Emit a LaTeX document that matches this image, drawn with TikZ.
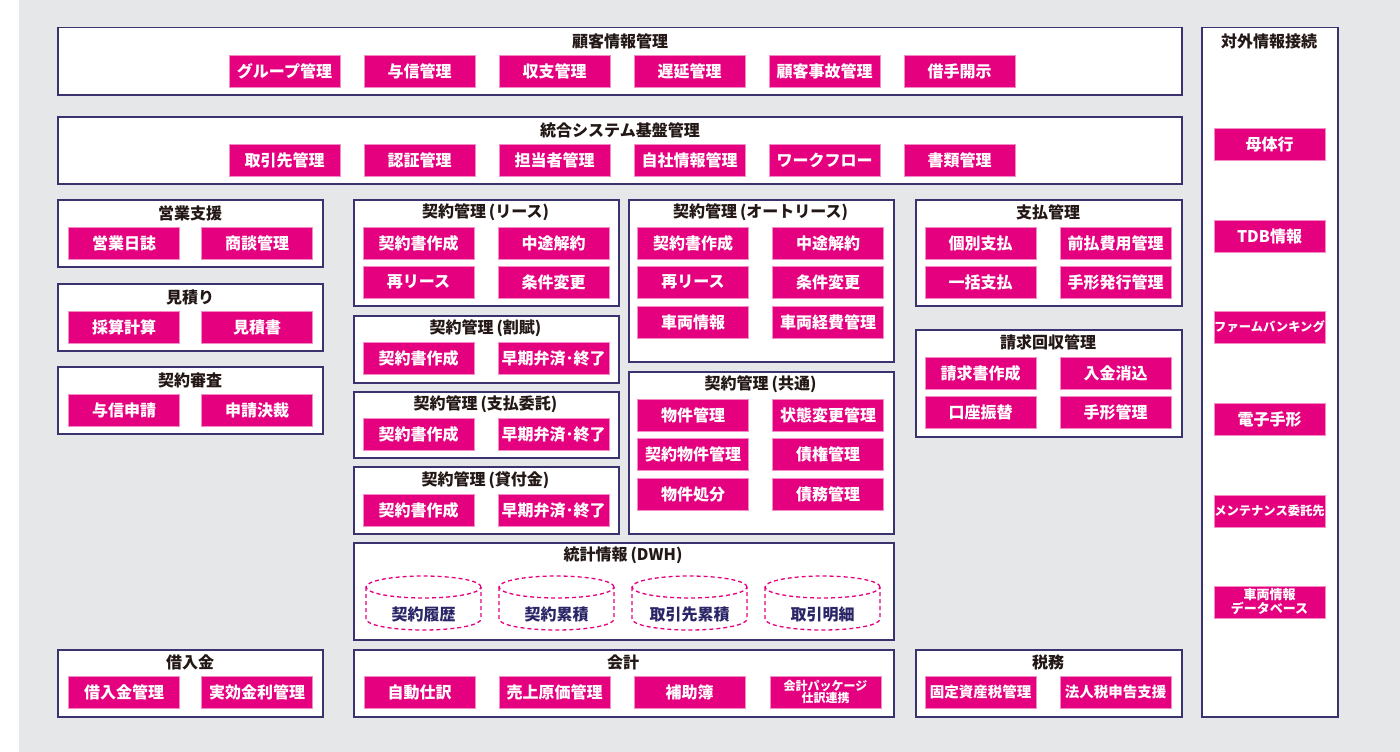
\documentclass[tikz,border=0pt]{standalone}
\usepackage{fontspec}
\setmainfont{Noto Sans CJK JP}
\usepackage{xcolor}
\definecolor{PanelGray}{HTML}{E6E7E8}
\definecolor{FrameNavy}{HTML}{3A336F}
\definecolor{BtnMagenta}{HTML}{E4007F}
\definecolor{TitleBlack}{HTML}{231815}
\definecolor{DbNavy}{HTML}{2A2566}

\begin{document}
\begin{tikzpicture}[x=1pt, y=-1pt,
    frame/.style={draw=FrameNavy, line width=1.5pt, fill=white, inner sep=0pt, anchor=north west},
    ttl/.style={text=TitleBlack, font=\bfseries\fontsize{16}{18}\selectfont},
    btn/.style={fill=BtnMagenta, draw=BtnMagenta!45, line width=0.6pt, text=white, minimum width=111pt,
      minimum height=32pt, inner sep=0pt, align=center, font=\bfseries\fontsize{16}{18}\selectfont},
    smalltxt/.style={font=\bfseries\fontsize{12.3}{13}\selectfont},
    tinytxt/.style={font=\bfseries\fontsize{12}{12.5}\selectfont},
    db/.style={draw=BtnMagenta, line width=1.3pt, dash pattern=on 4pt off 3pt},
    dbtext/.style={text=DbNavy, font=\bfseries\fontsize{16}{18}\selectfont}]
    \useasboundingbox (0,0) rectangle (1400,752);
    \fill[white] (0,0) rectangle (1400,752);
    \fill[PanelGray] (19,0) rectangle (1400,752);

    % Top rows
    \node[frame, minimum width=1124pt, minimum height=67pt] (customer) at (57,27) {};
    \node[ttl] (customerT) at (620,41) {顧客情報管理};
    \foreach \t [count=\i] in {グループ管理,与信管理,収支管理,遅延管理,顧客事故管理,借手開示}
        \node[btn] (cust\i) at ({149.5+135*\i},71) {\t};

    \node[frame, minimum width=1124pt, minimum height=67pt] (base) at (57,116) {};
    \node[ttl] (baseT) at (620,130) {統合システム基盤管理};
    \foreach \t [count=\i] in {取引先管理,認証管理,担当者管理,自社情報管理,ワークフロー,書類管理}
        \node[btn] (base\i) at ({149.5+135*\i},160) {\t};

    % Left column
    \node[frame, minimum width=265pt, minimum height=67pt] (sales) at (57,199) {};
    \node[ttl] (salesT) at (190,213) {営業支援};
    \node[btn] (sales1) at (124,243.5) {営業日誌};
    \node[btn] (sales2) at (257,243.5) {商談管理};

    \node[frame, minimum width=265pt, minimum height=67pt] (quote) at (57,283) {};
    \node[ttl] (quoteT) at (190,297) {見積り};
    \node[btn] (quote1) at (124,327.5) {採算計算};
    \node[btn] (quote2) at (257,327.5) {見積書};

    \node[frame, minimum width=265pt, minimum height=67pt] (review) at (57,366) {};
    \node[ttl] (reviewT) at (190,380) {契約審査};
    \node[btn] (review1) at (124,410.5) {与信申請};
    \node[btn] (review2) at (257,410.5) {申請決裁};

    % Contract columns
    \node[frame, minimum width=265pt, minimum height=106pt] (lease) at (353,199) {};
    \node[ttl] (leaseT) at (485.5,212) {契約管理\kern3pt(リース)};
    \node[btn] (lease1) at (418.5,243) {契約書作成};
    \node[btn] (lease2) at (553.5,243) {中途解約};
    \node[btn] (lease3) at (418.5,282) {再リース};
    \node[btn] (lease4) at (553.5,282) {条件変更};

    \node[frame, minimum width=265pt, minimum height=67pt] (install) at (353,315) {};
    \node[ttl] (installT) at (485.5,328) {契約管理\kern3pt(割賦)};
    \node[btn] (install1) at (418.5,358.5) {契約書作成};
    \node[btn] (install2) at (553.5,358.5) {早期弁済･終了};

    \node[frame, minimum width=265pt, minimum height=66pt] (payagent) at (353,391) {};
    \node[ttl] (payagentT) at (485.5,404) {契約管理\kern3pt(支払委託)};
    \node[btn] (payagent1) at (418.5,434.5) {契約書作成};
    \node[btn] (payagent2) at (553.5,434.5) {早期弁済･終了};

    \node[frame, minimum width=265pt, minimum height=67pt] (loan) at (353,466) {};
    \node[ttl] (loanT) at (485.5,480) {契約管理\kern3pt(貸付金)};
    \node[btn] (loan1) at (418.5,510) {契約書作成};
    \node[btn] (loan2) at (553.5,510) {早期弁済･終了};

    \node[frame, minimum width=265pt, minimum height=162pt] (auto) at (628,199) {};
    \node[ttl] (autoT) at (760.5,212) {契約管理\kern3pt(オートリース)};
    \node[btn] (auto1) at (693,243) {契約書作成};
    \node[btn] (auto2) at (828,243) {中途解約};
    \node[btn] (auto3) at (693,282) {再リース};
    \node[btn] (auto4) at (828,282) {条件変更};
    \node[btn] (auto5) at (693,322) {車両情報};
    \node[btn] (auto6) at (828,322) {車両経費管理};

    \node[frame, minimum width=265pt, minimum height=162pt] (common) at (628,371) {};
    \node[ttl] (commonT) at (760.5,384) {契約管理\kern3pt(共通)};
    \node[btn] (common1) at (693,415) {物件管理};
    \node[btn] (common2) at (828,415) {状態変更管理};
    \node[btn] (common3) at (693,454) {契約物件管理};
    \node[btn] (common4) at (828,454) {債権管理};
    \node[btn] (common5) at (693,494) {物件処分};
    \node[btn] (common6) at (828,494) {債務管理};

    % Data warehouse
    \node[frame, minimum width=540pt, minimum height=97pt] (dwh) at (353,542) {};
    \node[ttl] (dwhT) at (623,555) {統計情報\kern3pt(DWH)};
    \foreach \t [count=\i] in {契約履歴,契約累積,取引先累積,取引明細} {
        \draw[db] ({290.5+133*\i},587) ellipse [x radius=57.5pt, y radius=11pt];
        \draw[db] ({233+133*\i},587) -- ({233+133*\i},619)
            arc [start angle=180, end angle=360, x radius=57.5pt, y radius=11pt] -- ({348+133*\i},587);
        \node[dbtext] (dwh\i) at ({290.5+133*\i},614) {\t};
    }

    % Payment and billing
    \node[frame, minimum width=266pt, minimum height=106pt] (pay) at (915,199) {};
    \node[ttl] (payT) at (1048,212) {支払管理};
    \node[btn] (pay1) at (980.5,243) {個別支払};
    \node[btn] (pay2) at (1115.5,243) {前払費用管理};
    \node[btn] (pay3) at (980.5,282) {一括支払};
    \node[btn] (pay4) at (1115.5,282) {手形発行管理};

    \node[frame, minimum width=266pt, minimum height=107pt] (bill) at (915,329) {};
    \node[ttl] (billT) at (1048,342) {請求回収管理};
    \node[btn] (bill1) at (980.5,373) {請求書作成};
    \node[btn] (bill2) at (1115.5,373) {入金消込};
    \node[btn] (bill3) at (980.5,412) {口座振替};
    \node[btn] (bill4) at (1115.5,412) {手形管理};

    % Bottom row
    \node[frame, minimum width=265pt, minimum height=67pt] (borrow) at (57,649) {};
    \node[ttl] (borrowT) at (190,662) {借入金};
    \node[btn] (borrow1) at (124,692) {借入金管理};
    \node[btn] (borrow2) at (257,692) {実効金利管理};

    \node[frame, minimum width=540pt, minimum height=67pt] (acct) at (353,649) {};
    \node[ttl] (acctT) at (623,662) {会計};
    \node[btn] (acct1) at (419.5,692) {自動仕訳};
    \node[btn] (acct2) at (554.5,692) {売上原価管理};
    \node[btn] (acct3) at (689.5,692) {補助簿};
    \node[btn, tinytxt] (acct4) at (825.5,692) {会計パッケージ\\仕訳連携};

    \node[frame, minimum width=266pt, minimum height=67pt] (tax) at (915,649) {};
    \node[ttl] (taxT) at (1048,662) {税務};
    \node[btn, font=\bfseries\fontsize{14.5}{15}\selectfont] (tax1) at (980.5,692) {固定資産税管理};
    \node[btn, font=\bfseries\fontsize{14.5}{15}\selectfont] (tax2) at (1115.5,692) {法人税申告支援};

    % External connections
    \node[frame, minimum width=136pt, minimum height=689pt] (ext) at (1201,27) {};
    \node[ttl] (extT) at (1269,41) {対外情報接続};
    \node[btn] (ext1) at (1269.5,144) {母体行};
    \node[btn] (ext2) at (1269.5,236) {TDB情報};
    \node[btn, smalltxt] (ext3) at (1269.5,327) {ファームバンキング};
    \node[btn] (ext4) at (1269.5,419) {電子手形};
    \node[btn, smalltxt] (ext5) at (1269.5,511) {メンテナンス委託先};
    \node[btn, font=\bfseries\fontsize{13}{14}\selectfont] (ext6) at (1269.5,602) {車両情報\\データベース};
\end{tikzpicture}
\end{document}
